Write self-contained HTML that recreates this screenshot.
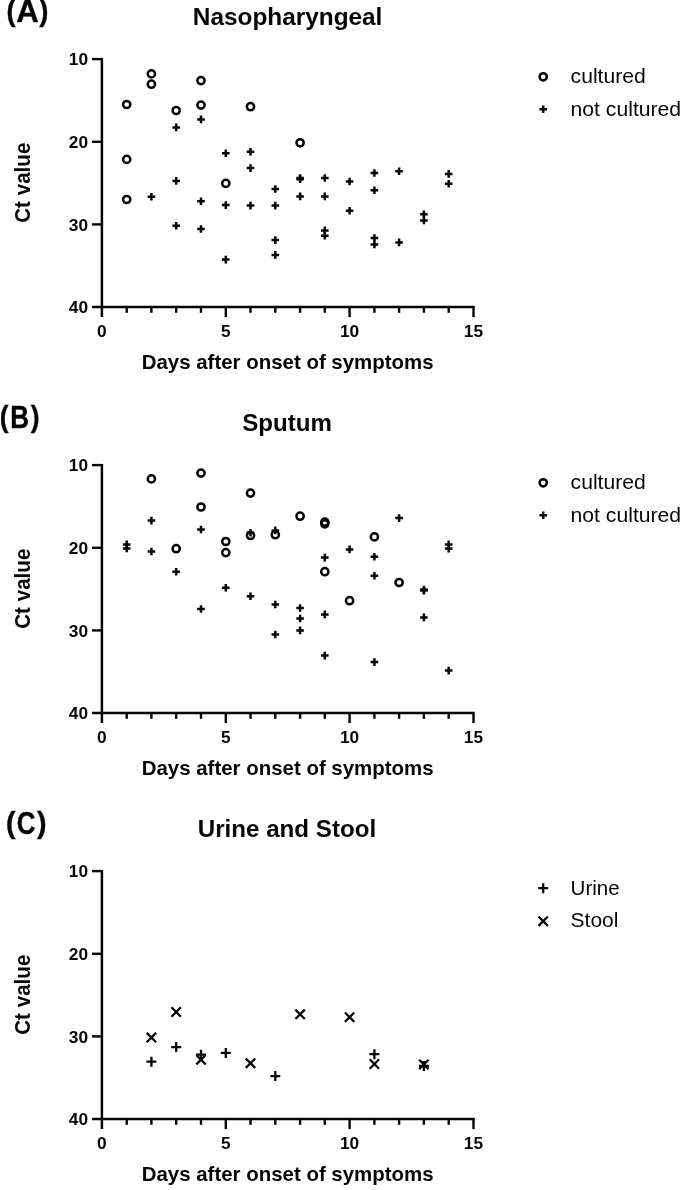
<!DOCTYPE html>
<html><head><meta charset="utf-8"><title>Figure</title>
<style>
html,body{margin:0;padding:0;background:#fff;}
svg{display:block;will-change:transform;}
text{font-family:"Liberation Sans",sans-serif;fill:#060606;}
.b{font-weight:bold;}
</style></head><body>
<svg width="683" height="1190" viewBox="0 0 683 1190">
<rect width="683" height="1190" fill="#fff"/>
<!-- panel (A) -->
<g stroke="#060606" stroke-width="2.5" fill="none"><path d="M101.9 57.9V317.1"/><path d="M92.0 307.1H474.7"/></g><g stroke="#060606" stroke-width="2.4" fill="none"><path d="M92 59.1H101.9"/><path d="M92 141.8H101.9"/><path d="M92 224.4H101.9"/><path d="M126.7 307.1V312.8"/><path d="M151.4 307.1V312.8"/><path d="M176.2 307.1V312.8"/><path d="M201.0 307.1V312.8"/><path d="M225.8 307.1V317.1"/><path d="M250.5 307.1V312.8"/><path d="M275.3 307.1V312.8"/><path d="M300.1 307.1V312.8"/><path d="M324.8 307.1V312.8"/><path d="M349.6 307.1V317.1"/><path d="M374.4 307.1V312.8"/><path d="M399.1 307.1V312.8"/><path d="M423.9 307.1V312.8"/><path d="M448.7 307.1V312.8"/><path d="M473.5 307.1V317.1"/></g>
<text class="b" x="88" y="65.2" font-size="17.3" text-anchor="end">10</text><text class="b" x="88" y="147.9" font-size="17.3" text-anchor="end">20</text><text class="b" x="88" y="230.5" font-size="17.3" text-anchor="end">30</text><text class="b" x="88" y="313.2" font-size="17.3" text-anchor="end">40</text><text class="b" x="101.8" y="337.2" font-size="17.3" text-anchor="middle">0</text><text class="b" x="225.7" y="337.2" font-size="17.3" text-anchor="middle">5</text><text class="b" x="349.5" y="337.2" font-size="17.3" text-anchor="middle">10</text><text class="b" x="473.4" y="337.2" font-size="17.3" text-anchor="middle">15</text>
<text class="b" x="141.7" y="369.1" font-size="20.4" textLength="291.9" lengthAdjust="spacingAndGlyphs">Days after onset of symptoms</text>
<text class="b" transform="translate(30.1 222.8) rotate(-90)" font-size="22" textLength="80.2" lengthAdjust="spacingAndGlyphs">Ct value</text>
<text class="b" x="192.8" y="25.2" font-size="24" textLength="189.6" lengthAdjust="spacingAndGlyphs">Nasopharyngeal</text>
<text class="b" transform="matrix(0.2750 0 0 0.3027 6.47 21.39)" font-size="100" stroke="#060606" stroke-width="1.2">(</text><text class="b" transform="matrix(0.3119 0 0 0.3116 16.17 22.25)" font-size="100" stroke="#060606" stroke-width="1.2">A</text><text class="b" transform="matrix(0.2750 0 0 0.3027 39.31 21.39)" font-size="100" stroke="#060606" stroke-width="1.2">)</text>
<!-- panel (B) -->
<g stroke="#060606" stroke-width="2.5" fill="none"><path d="M101.9 463.9V723.1"/><path d="M92.0 713.1H474.7"/></g><g stroke="#060606" stroke-width="2.4" fill="none"><path d="M92 465.1H101.9"/><path d="M92 547.8H101.9"/><path d="M92 630.4H101.9"/><path d="M126.7 713.1V718.8"/><path d="M151.4 713.1V718.8"/><path d="M176.2 713.1V718.8"/><path d="M201.0 713.1V718.8"/><path d="M225.8 713.1V723.1"/><path d="M250.5 713.1V718.8"/><path d="M275.3 713.1V718.8"/><path d="M300.1 713.1V718.8"/><path d="M324.8 713.1V718.8"/><path d="M349.6 713.1V723.1"/><path d="M374.4 713.1V718.8"/><path d="M399.1 713.1V718.8"/><path d="M423.9 713.1V718.8"/><path d="M448.7 713.1V718.8"/><path d="M473.5 713.1V723.1"/></g>
<text class="b" x="88" y="471.2" font-size="17.3" text-anchor="end">10</text><text class="b" x="88" y="553.9" font-size="17.3" text-anchor="end">20</text><text class="b" x="88" y="636.5" font-size="17.3" text-anchor="end">30</text><text class="b" x="88" y="719.2" font-size="17.3" text-anchor="end">40</text><text class="b" x="101.8" y="743.2" font-size="17.3" text-anchor="middle">0</text><text class="b" x="225.7" y="743.2" font-size="17.3" text-anchor="middle">5</text><text class="b" x="349.5" y="743.2" font-size="17.3" text-anchor="middle">10</text><text class="b" x="473.4" y="743.2" font-size="17.3" text-anchor="middle">15</text>
<text class="b" x="141.7" y="775.1" font-size="20.4" textLength="291.9" lengthAdjust="spacingAndGlyphs">Days after onset of symptoms</text>
<text class="b" transform="translate(30.1 628.8) rotate(-90)" font-size="22" textLength="80.2" lengthAdjust="spacingAndGlyphs">Ct value</text>
<text class="b" x="242.2" y="431.2" font-size="24" textLength="89.8" lengthAdjust="spacingAndGlyphs">Sputum</text>
<text class="b" transform="matrix(0.2643 0 0 0.3027 -0.17 427.39)" font-size="100" stroke="#060606" stroke-width="1.2">(</text><text class="b" transform="matrix(0.2607 0 0 0.3072 10.26 428.15)" font-size="100" stroke="#060606" stroke-width="1.2">B</text><text class="b" transform="matrix(0.2643 0 0 0.3027 30.82 427.39)" font-size="100" stroke="#060606" stroke-width="1.2">)</text>
<!-- panel (C) -->
<g stroke="#060606" stroke-width="2.5" fill="none"><path d="M101.9 869.9V1129.1"/><path d="M92.0 1119.1H474.7"/></g><g stroke="#060606" stroke-width="2.4" fill="none"><path d="M92 871.1H101.9"/><path d="M92 953.8H101.9"/><path d="M92 1036.4H101.9"/><path d="M126.7 1119.1V1124.8"/><path d="M151.4 1119.1V1124.8"/><path d="M176.2 1119.1V1124.8"/><path d="M201.0 1119.1V1124.8"/><path d="M225.8 1119.1V1129.1"/><path d="M250.5 1119.1V1124.8"/><path d="M275.3 1119.1V1124.8"/><path d="M300.1 1119.1V1124.8"/><path d="M324.8 1119.1V1124.8"/><path d="M349.6 1119.1V1129.1"/><path d="M374.4 1119.1V1124.8"/><path d="M399.1 1119.1V1124.8"/><path d="M423.9 1119.1V1124.8"/><path d="M448.7 1119.1V1124.8"/><path d="M473.5 1119.1V1129.1"/></g>
<text class="b" x="88" y="877.2" font-size="17.3" text-anchor="end">10</text><text class="b" x="88" y="959.9" font-size="17.3" text-anchor="end">20</text><text class="b" x="88" y="1042.5" font-size="17.3" text-anchor="end">30</text><text class="b" x="88" y="1125.2" font-size="17.3" text-anchor="end">40</text><text class="b" x="101.8" y="1149.2" font-size="17.3" text-anchor="middle">0</text><text class="b" x="225.7" y="1149.2" font-size="17.3" text-anchor="middle">5</text><text class="b" x="349.5" y="1149.2" font-size="17.3" text-anchor="middle">10</text><text class="b" x="473.4" y="1149.2" font-size="17.3" text-anchor="middle">15</text>
<text class="b" x="141.7" y="1181.1" font-size="20.4" textLength="291.9" lengthAdjust="spacingAndGlyphs">Days after onset of symptoms</text>
<text class="b" transform="translate(30.1 1034.8) rotate(-90)" font-size="22" textLength="80.2" lengthAdjust="spacingAndGlyphs">Ct value</text>
<text class="b" x="197.7" y="837.2" font-size="24" textLength="178.5" lengthAdjust="spacingAndGlyphs">Urine and Stool</text>
<text class="b" transform="matrix(0.2857 0 0 0.3027 6.12 833.39)" font-size="100" stroke="#060606" stroke-width="1.2">(</text><text class="b" transform="matrix(0.2595 0 0 0.3197 16.81 834.33)" font-size="100" stroke="#060606" stroke-width="1.2">C</text><text class="b" transform="matrix(0.2857 0 0 0.3027 37.01 833.39)" font-size="100" stroke="#060606" stroke-width="1.2">)</text>
<g>
<circle cx="126.7" cy="104.5" r="3.62" fill="none" stroke="#060606" stroke-width="2.5"/>
<circle cx="126.7" cy="159.4" r="3.62" fill="none" stroke="#060606" stroke-width="2.5"/>
<circle cx="126.7" cy="199.5" r="3.62" fill="none" stroke="#060606" stroke-width="2.5"/>
<circle cx="151.4" cy="73.9" r="3.62" fill="none" stroke="#060606" stroke-width="2.5"/>
<circle cx="151.4" cy="84.2" r="3.62" fill="none" stroke="#060606" stroke-width="2.5"/>
<circle cx="176.2" cy="110.5" r="3.62" fill="none" stroke="#060606" stroke-width="2.5"/>
<circle cx="201.0" cy="80.6" r="3.62" fill="none" stroke="#060606" stroke-width="2.5"/>
<circle cx="201.0" cy="105.1" r="3.62" fill="none" stroke="#060606" stroke-width="2.5"/>
<circle cx="225.8" cy="183.4" r="3.62" fill="none" stroke="#060606" stroke-width="2.5"/>
<circle cx="250.5" cy="106.7" r="3.62" fill="none" stroke="#060606" stroke-width="2.5"/>
<circle cx="300.1" cy="142.8" r="3.62" fill="none" stroke="#060606" stroke-width="2.5"/>
<circle cx="151.4" cy="478.9" r="3.62" fill="none" stroke="#060606" stroke-width="2.5"/>
<circle cx="176.2" cy="548.7" r="3.62" fill="none" stroke="#060606" stroke-width="2.5"/>
<circle cx="201.0" cy="473.1" r="3.62" fill="none" stroke="#060606" stroke-width="2.5"/>
<circle cx="201.0" cy="507.0" r="3.62" fill="none" stroke="#060606" stroke-width="2.5"/>
<circle cx="225.8" cy="541.5" r="3.62" fill="none" stroke="#060606" stroke-width="2.5"/>
<circle cx="225.8" cy="552.6" r="3.62" fill="none" stroke="#060606" stroke-width="2.5"/>
<circle cx="250.5" cy="493.1" r="3.62" fill="none" stroke="#060606" stroke-width="2.5"/>
<circle cx="250.5" cy="535.5" r="3.62" fill="none" stroke="#060606" stroke-width="2.5"/>
<circle cx="275.3" cy="534.7" r="3.62" fill="none" stroke="#060606" stroke-width="2.5"/>
<circle cx="300.1" cy="516.2" r="3.62" fill="none" stroke="#060606" stroke-width="2.5"/>
<circle cx="324.8" cy="522.1" r="3.62" fill="none" stroke="#060606" stroke-width="2.5"/>
<circle cx="324.8" cy="523.8" r="3.62" fill="none" stroke="#060606" stroke-width="2.5"/>
<circle cx="324.8" cy="571.7" r="3.62" fill="none" stroke="#060606" stroke-width="2.5"/>
<circle cx="349.6" cy="600.7" r="3.62" fill="none" stroke="#060606" stroke-width="2.5"/>
<circle cx="374.4" cy="536.9" r="3.62" fill="none" stroke="#060606" stroke-width="2.5"/>
<circle cx="399.1" cy="582.5" r="3.62" fill="none" stroke="#060606" stroke-width="2.5"/>
<path d="M147.6 196.7H155.2M151.4 192.9V200.5" stroke="#060606" stroke-width="2.5" fill="none"/>
<path d="M172.4 127.4H180.0M176.2 123.6V131.2" stroke="#060606" stroke-width="2.5" fill="none"/>
<path d="M172.4 180.9H180.0M176.2 177.1V184.7" stroke="#060606" stroke-width="2.5" fill="none"/>
<path d="M172.4 225.7H180.0M176.2 221.9V229.5" stroke="#060606" stroke-width="2.5" fill="none"/>
<path d="M197.2 119.4H204.8M201.0 115.6V123.2" stroke="#060606" stroke-width="2.5" fill="none"/>
<path d="M197.2 201.2H204.8M201.0 197.4V205.0" stroke="#060606" stroke-width="2.5" fill="none"/>
<path d="M197.2 229.0H204.8M201.0 225.2V232.8" stroke="#060606" stroke-width="2.5" fill="none"/>
<path d="M221.9 153.2H229.6M225.8 149.4V157.0" stroke="#060606" stroke-width="2.5" fill="none"/>
<path d="M221.9 205.1H229.6M225.8 201.3V208.9" stroke="#060606" stroke-width="2.5" fill="none"/>
<path d="M221.9 259.6H229.6M225.8 255.8V263.4" stroke="#060606" stroke-width="2.5" fill="none"/>
<path d="M246.7 151.8H254.3M250.5 148.0V155.6" stroke="#060606" stroke-width="2.5" fill="none"/>
<path d="M246.7 168.1H254.3M250.5 164.3V171.9" stroke="#060606" stroke-width="2.5" fill="none"/>
<path d="M246.7 205.6H254.3M250.5 201.8V209.4" stroke="#060606" stroke-width="2.5" fill="none"/>
<path d="M271.5 189.0H279.1M275.3 185.2V192.8" stroke="#060606" stroke-width="2.5" fill="none"/>
<path d="M271.5 205.6H279.1M275.3 201.8V209.4" stroke="#060606" stroke-width="2.5" fill="none"/>
<path d="M271.5 240.1H279.1M275.3 236.3V243.9" stroke="#060606" stroke-width="2.5" fill="none"/>
<path d="M271.5 254.9H279.1M275.3 251.1V258.7" stroke="#060606" stroke-width="2.5" fill="none"/>
<path d="M296.3 178.0H303.9M300.1 174.2V181.8" stroke="#060606" stroke-width="2.5" fill="none"/>
<path d="M296.3 179.2H303.9M300.1 175.4V183.0" stroke="#060606" stroke-width="2.5" fill="none"/>
<path d="M296.3 196.4H303.9M300.1 192.6V200.2" stroke="#060606" stroke-width="2.5" fill="none"/>
<path d="M321.0 178.0H328.6M324.8 174.2V181.8" stroke="#060606" stroke-width="2.5" fill="none"/>
<path d="M321.0 196.4H328.6M324.8 192.6V200.2" stroke="#060606" stroke-width="2.5" fill="none"/>
<path d="M321.0 230.4H328.6M324.8 226.6V234.2" stroke="#060606" stroke-width="2.5" fill="none"/>
<path d="M321.0 235.7H328.6M324.8 231.9V239.5" stroke="#060606" stroke-width="2.5" fill="none"/>
<path d="M345.8 181.5H353.4M349.6 177.7V185.3" stroke="#060606" stroke-width="2.5" fill="none"/>
<path d="M345.8 210.8H353.4M349.6 207.0V214.6" stroke="#060606" stroke-width="2.5" fill="none"/>
<path d="M370.6 173.0H378.2M374.4 169.2V176.8" stroke="#060606" stroke-width="2.5" fill="none"/>
<path d="M370.6 190.3H378.2M374.4 186.5V194.1" stroke="#060606" stroke-width="2.5" fill="none"/>
<path d="M370.6 238.0H378.2M374.4 234.2V241.8" stroke="#060606" stroke-width="2.5" fill="none"/>
<path d="M370.6 244.5H378.2M374.4 240.7V248.3" stroke="#060606" stroke-width="2.5" fill="none"/>
<path d="M395.3 171.2H402.9M399.1 167.4V175.0" stroke="#060606" stroke-width="2.5" fill="none"/>
<path d="M395.3 242.4H402.9M399.1 238.6V246.2" stroke="#060606" stroke-width="2.5" fill="none"/>
<path d="M420.1 214.3H427.7M423.9 210.5V218.1" stroke="#060606" stroke-width="2.5" fill="none"/>
<path d="M420.1 220.4H427.7M423.9 216.6V224.2" stroke="#060606" stroke-width="2.5" fill="none"/>
<path d="M444.9 173.9H452.5M448.7 170.1V177.7" stroke="#060606" stroke-width="2.5" fill="none"/>
<path d="M444.9 183.8H452.5M448.7 180.0V187.6" stroke="#060606" stroke-width="2.5" fill="none"/>
<path d="M122.9 544.4H130.5M126.7 540.6V548.2" stroke="#060606" stroke-width="2.5" fill="none"/>
<path d="M122.9 548.4H130.5M126.7 544.6V552.2" stroke="#060606" stroke-width="2.5" fill="none"/>
<path d="M147.6 520.6H155.2M151.4 516.8V524.4" stroke="#060606" stroke-width="2.5" fill="none"/>
<path d="M147.6 551.5H155.2M151.4 547.7V555.3" stroke="#060606" stroke-width="2.5" fill="none"/>
<path d="M172.4 571.8H180.0M176.2 568.0V575.6" stroke="#060606" stroke-width="2.5" fill="none"/>
<path d="M197.2 529.5H204.8M201.0 525.7V533.3" stroke="#060606" stroke-width="2.5" fill="none"/>
<path d="M197.2 609.0H204.8M201.0 605.2V612.8" stroke="#060606" stroke-width="2.5" fill="none"/>
<path d="M221.9 587.8H229.6M225.8 584.0V591.6" stroke="#060606" stroke-width="2.5" fill="none"/>
<path d="M246.7 532.7H254.3M250.5 528.9V536.5" stroke="#060606" stroke-width="2.5" fill="none"/>
<path d="M246.7 596.2H254.3M250.5 592.4V600.0" stroke="#060606" stroke-width="2.5" fill="none"/>
<path d="M271.5 530.4H279.1M275.3 526.6V534.2" stroke="#060606" stroke-width="2.5" fill="none"/>
<path d="M271.5 604.5H279.1M275.3 600.7V608.3" stroke="#060606" stroke-width="2.5" fill="none"/>
<path d="M271.5 634.5H279.1M275.3 630.7V638.3" stroke="#060606" stroke-width="2.5" fill="none"/>
<path d="M296.3 608.0H303.9M300.1 604.2V611.8" stroke="#060606" stroke-width="2.5" fill="none"/>
<path d="M296.3 618.5H303.9M300.1 614.7V622.3" stroke="#060606" stroke-width="2.5" fill="none"/>
<path d="M296.3 630.4H303.9M300.1 626.6V634.2" stroke="#060606" stroke-width="2.5" fill="none"/>
<path d="M321.0 557.6H328.6M324.8 553.8V561.4" stroke="#060606" stroke-width="2.5" fill="none"/>
<path d="M321.0 614.4H328.6M324.8 610.6V618.2" stroke="#060606" stroke-width="2.5" fill="none"/>
<path d="M321.0 655.6H328.6M324.8 651.8V659.4" stroke="#060606" stroke-width="2.5" fill="none"/>
<path d="M345.8 549.4H353.4M349.6 545.6V553.2" stroke="#060606" stroke-width="2.5" fill="none"/>
<path d="M370.6 556.8H378.2M374.4 553.0V560.6" stroke="#060606" stroke-width="2.5" fill="none"/>
<path d="M370.6 575.8H378.2M374.4 572.0V579.6" stroke="#060606" stroke-width="2.5" fill="none"/>
<path d="M370.6 662.1H378.2M374.4 658.3V665.9" stroke="#060606" stroke-width="2.5" fill="none"/>
<path d="M395.3 518.1H402.9M399.1 514.3V521.9" stroke="#060606" stroke-width="2.5" fill="none"/>
<path d="M420.1 589.6H427.7M423.9 585.8V593.4" stroke="#060606" stroke-width="2.5" fill="none"/>
<path d="M420.1 590.6H427.7M423.9 586.8V594.4" stroke="#060606" stroke-width="2.5" fill="none"/>
<path d="M420.1 617.4H427.7M423.9 613.6V621.2" stroke="#060606" stroke-width="2.5" fill="none"/>
<path d="M444.9 544.4H452.5M448.7 540.6V548.2" stroke="#060606" stroke-width="2.5" fill="none"/>
<path d="M444.9 548.6H452.5M448.7 544.8V552.4" stroke="#060606" stroke-width="2.5" fill="none"/>
<path d="M444.9 670.6H452.5M448.7 666.8V674.4" stroke="#060606" stroke-width="2.5" fill="none"/>
<path d="M146.4 1061.7H156.4M151.4 1056.7V1066.7" stroke="#060606" stroke-width="2.3" fill="none"/>
<path d="M171.2 1047.1H181.2M176.2 1042.1V1052.1" stroke="#060606" stroke-width="2.3" fill="none"/>
<path d="M196.0 1054.7H206.0M201.0 1049.7V1059.7" stroke="#060606" stroke-width="2.3" fill="none"/>
<path d="M220.8 1052.9H230.8M225.8 1047.9V1057.9" stroke="#060606" stroke-width="2.3" fill="none"/>
<path d="M270.3 1076.1H280.3M275.3 1071.1V1081.1" stroke="#060606" stroke-width="2.3" fill="none"/>
<path d="M369.4 1054.2H379.4M374.4 1049.2V1059.2" stroke="#060606" stroke-width="2.3" fill="none"/>
<path d="M418.9 1066.0H428.9M423.9 1061.0V1071.0" stroke="#060606" stroke-width="2.3" fill="none"/>
<path d="M146.7 1032.9L156.1 1042.3M146.7 1042.3L156.1 1032.9" stroke="#060606" stroke-width="2.3" fill="none"/>
<path d="M171.5 1007.3L180.9 1016.7M171.5 1016.7L180.9 1007.3" stroke="#060606" stroke-width="2.3" fill="none"/>
<path d="M196.3 1055.0L205.7 1064.4M196.3 1064.4L205.7 1055.0" stroke="#060606" stroke-width="2.3" fill="none"/>
<path d="M245.8 1058.5L255.2 1067.9M245.8 1067.9L255.2 1058.5" stroke="#060606" stroke-width="2.3" fill="none"/>
<path d="M295.4 1009.6L304.8 1019.0M295.4 1019.0L304.8 1009.6" stroke="#060606" stroke-width="2.3" fill="none"/>
<path d="M344.9 1012.5L354.3 1021.9M344.9 1021.9L354.3 1012.5" stroke="#060606" stroke-width="2.3" fill="none"/>
<path d="M369.7 1059.3L379.1 1068.7M369.7 1068.7L379.1 1059.3" stroke="#060606" stroke-width="2.3" fill="none"/>
<path d="M419.2 1059.7L428.6 1069.1M419.2 1069.1L428.6 1059.7" stroke="#060606" stroke-width="2.3" fill="none"/>
</g>
<circle cx="543.2" cy="76.8" r="3.62" fill="none" stroke="#060606" stroke-width="2.5"/><path d="M539.4 109.2H547.0M543.2 105.4V113.0" stroke="#060606" stroke-width="2.5" fill="none"/>
<text x="570.6" y="82.9" font-size="20.8" textLength="75.2" lengthAdjust="spacingAndGlyphs">cultured</text><text x="570.6" y="115.6" font-size="20.8" textLength="110.5" lengthAdjust="spacingAndGlyphs">not cultured</text>
<circle cx="543.2" cy="482.8" r="3.62" fill="none" stroke="#060606" stroke-width="2.5"/><path d="M539.4 515.2H547.0M543.2 511.4V519.0" stroke="#060606" stroke-width="2.5" fill="none"/>
<text x="570.6" y="488.9" font-size="20.8" textLength="75.2" lengthAdjust="spacingAndGlyphs">cultured</text><text x="570.6" y="521.6" font-size="20.8" textLength="110.5" lengthAdjust="spacingAndGlyphs">not cultured</text>
<path d="M538.2 888.2H548.2M543.2 883.2V893.2" stroke="#060606" stroke-width="2.3" fill="none"/><path d="M538.5 916.5L547.9 925.9M538.5 925.9L547.9 916.5" stroke="#060606" stroke-width="2.3" fill="none"/>
<text x="570.6" y="894.5" font-size="20.8" textLength="49.0" lengthAdjust="spacingAndGlyphs">Urine</text><text x="570.6" y="927.2" font-size="20.8" textLength="47.8" lengthAdjust="spacingAndGlyphs">Stool</text>
</svg>
</body></html>
